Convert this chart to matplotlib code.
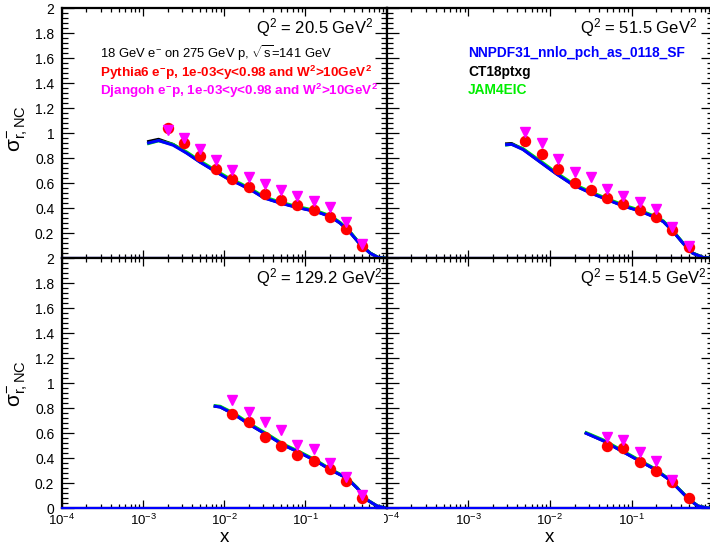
import matplotlib
matplotlib.use("Agg")
import matplotlib.pyplot as plt
import numpy as np
from matplotlib.ticker import LogLocator, NullFormatter, MultipleLocator
from matplotlib.transforms import Bbox, TransformedBbox

plt.rcParams['font.family'] = ['Liberation Sans', 'DejaVu Sans']
plt.rcParams['mathtext.fontset'] = 'custom'
plt.rcParams['mathtext.rm'] = 'Liberation Sans'
plt.rcParams['mathtext.it'] = 'Liberation Sans:italic'
plt.rcParams['mathtext.bf'] = 'Liberation Sans:bold'
plt.rcParams['mathtext.default'] = 'regular'

# ------------------------
# dados
q2_labels = ['20.5', '51.5', '129.2', '514.5']

# centros dos bins em x
x_tl = [0.0020, 0.0032, 0.0050, 0.0079, 0.0126, 0.0200, 0.0316, 0.0501, 0.0794, 0.126, 0.200, 0.316, 0.501]
x_tr = [0.0050, 0.0079, 0.0126, 0.0200, 0.0316, 0.0501, 0.0794, 0.126, 0.200, 0.316, 0.501]
x_bl = [0.0126, 0.0200, 0.0316, 0.0501, 0.0794, 0.126, 0.200, 0.316, 0.501]
x_br = [0.0501, 0.0794, 0.126, 0.200, 0.316, 0.501]

# Pythia6 (vermelho)
pythia_tl = [1.04, 0.925, 0.815, 0.712, 0.638, 0.571, 0.513, 0.470, 0.424, 0.385, 0.333, 0.238, 0.098]
pythia_tr = [0.940, 0.832, 0.717, 0.600, 0.546, 0.480, 0.435, 0.387, 0.328, 0.230, 0.093]
pythia_bl = [0.755, 0.688, 0.570, 0.498, 0.427, 0.380, 0.315, 0.220, 0.080]
pythia_br = [0.499, 0.483, 0.373, 0.299, 0.207, 0.083]

# Djangoh (magenta)
djangoh_tl = [1.03, 0.965, 0.872, 0.787, 0.710, 0.653, 0.593, 0.543, 0.500, 0.457, 0.407, 0.290, 0.117]
djangoh_tr = [1.013, 0.925, 0.796, 0.689, 0.647, 0.552, 0.500, 0.453, 0.392, 0.253, 0.100]
djangoh_bl = [0.867, 0.767, 0.693, 0.627, 0.509, 0.474, 0.362, 0.247, 0.104]
djangoh_br = [0.569, 0.550, 0.453, 0.380, 0.226]

# curvas teoricas (NNPDF azul, CT18 preto, JAM verde)
cx_tl = [0.00112, 0.00155, 0.00234, 0.00347, 0.00501, 0.00741, 0.0107, 0.0158, 0.0229, 0.0309, 0.0447,
         0.0646, 0.0955, 0.138, 0.204, 0.269, 0.363, 0.479, 0.631, 0.794, 1.0]
nnpdf_tl = [0.920, 0.942, 0.905, 0.840, 0.770, 0.703, 0.642, 0.590, 0.535, 0.483, 0.450,
            0.421, 0.395, 0.372, 0.333, 0.280, 0.200, 0.107, 0.040, 0.006, 0.0]
ct18_tl = [0.932, 0.952, 0.911, 0.843, 0.772, 0.705, 0.644, 0.592, 0.537, 0.485, 0.452,
           0.423, 0.397, 0.374, 0.335, 0.282, 0.202, 0.108, 0.041, 0.006, 0.0]
jam_tl = [0.915, 0.940, 0.911, 0.849, 0.780, 0.713, 0.652, 0.599, 0.544, 0.492, 0.458,
          0.429, 0.403, 0.379, 0.340, 0.286, 0.205, 0.110, 0.042, 0.006, 0.0]

cx_tr = [0.00282, 0.00339, 0.00468, 0.00759, 0.0120, 0.0191, 0.0309, 0.0490, 0.0794, 0.126,
         0.191, 0.245, 0.324, 0.427, 0.562, 0.759, 1.0]
nnpdf_tr = [0.908, 0.912, 0.870, 0.770, 0.675, 0.588, 0.525, 0.472, 0.418, 0.378,
            0.330, 0.293, 0.213, 0.120, 0.040, 0.006, 0.0]
ct18_tr = [0.915, 0.918, 0.873, 0.772, 0.677, 0.590, 0.527, 0.474, 0.420, 0.380,
           0.332, 0.295, 0.215, 0.121, 0.041, 0.006, 0.0]
jam_tr = [0.905, 0.912, 0.877, 0.780, 0.685, 0.597, 0.534, 0.480, 0.426, 0.385,
          0.337, 0.299, 0.218, 0.123, 0.042, 0.006, 0.0]

cx_bl = [0.00741, 0.00891, 0.0130, 0.0209, 0.0339, 0.0537, 0.0871, 0.138, 0.204, 0.327,
         0.437, 0.575, 0.767, 1.0]
nnpdf_bl = [0.818, 0.810, 0.755, 0.667, 0.586, 0.506, 0.442, 0.375, 0.308, 0.240,
            0.160, 0.067, 0.018, 0.0]
ct18_bl = [0.818, 0.811, 0.756, 0.668, 0.587, 0.507, 0.443, 0.376, 0.309, 0.241,
           0.161, 0.067, 0.018, 0.0]
jam_bl = [0.822, 0.816, 0.763, 0.675, 0.594, 0.513, 0.449, 0.381, 0.313, 0.244,
          0.163, 0.069, 0.018, 0.0]

cx_br = [0.0267, 0.0447, 0.0718, 0.115, 0.183, 0.294, 0.389, 0.515, 0.652, 0.832, 1.0]
nnpdf_br = [0.605, 0.541, 0.466, 0.392, 0.320, 0.226, 0.146, 0.066, 0.018, 0.003, 0.0]
ct18_br = [0.606, 0.542, 0.467, 0.393, 0.321, 0.227, 0.147, 0.066, 0.018, 0.003, 0.0]
jam_br = [0.610, 0.548, 0.473, 0.398, 0.325, 0.230, 0.149, 0.068, 0.019, 0.003, 0.0]

yticks = [0, 0.2, 0.4, 0.6, 0.8, 1, 1.2, 1.4, 1.6, 1.8, 2]
ytick_labels = ['0', '0.2', '0.4', '0.6', '0.8', '1', '1.2', '1.4', '1.6', '1.8', '2']
xticks = [1e-4, 1e-3, 1e-2, 1e-1, 1]
xtick_labels = [r'$10^{-4}$', r'$10^{-3}$', r'$10^{-2}$', r'$10^{-1}$', '']

# ------------------------
W, H = 710, 546
fig = plt.figure(figsize=(W / 100, H / 100), dpi=100)

def px_rect(x0, y0, x1, y1):
    # pixels (origem em cima) -> fracao da figura
    return [x0 / W, 1 - y1 / H, (x1 - x0) / W, (y1 - y0) / H]

rects = [px_rect(62, 8.3, 386.5, 258.3), px_rect(386.7, 8.3, 713.2, 258.3),
         px_rect(62, 258.3, 386.5, 508.3), px_rect(386.7, 258.3, 713.2, 508.3)]

panels = [
    (x_tl, pythia_tl, djangoh_tl, cx_tl, nnpdf_tl, ct18_tl, jam_tl),
    (x_tr, pythia_tr, djangoh_tr, cx_tr, nnpdf_tr, ct18_tr, jam_tr),
    (x_bl, pythia_bl, djangoh_bl, cx_bl, nnpdf_bl, ct18_bl, jam_bl),
    (x_br, pythia_br, djangoh_br, cx_br, nnpdf_br, ct18_br, jam_br),
]

axes = []
for i, (xd, py, dj, cx, nn, ct, jm) in enumerate(panels):
    ax = fig.add_axes(rects[i])
    axes.append(ax)
    ax.set_xscale('log')
    ax.set_xlim(1e-4, 1)
    ax.set_ylim(0, 2)

    # curvas
    ax.plot(cx, ct, color='black', lw=2.2, solid_capstyle='butt', zorder=3)
    ax.plot(cx, jm, color='#00ee00', lw=2.2, solid_capstyle='butt', zorder=3)
    ax.plot(cx, nn, color='#0000ff', lw=2.2, solid_capstyle='butt', zorder=3)
    ax.axhline(0, color='#0000ff', lw=1.6, zorder=3, clip_on=False)

    # pontos
    ax.plot(xd, py, 'o', color='#ff0000', ms=7.2, mec='#ff0000', zorder=4)
    xdj = xd[:len(dj)]
    ax.plot(xdj, dj, 'v', color='#ff00ff', ms=7.5, mec='#ff00ff', zorder=5)

    for s in ax.spines.values():
        s.set_linewidth(1.6)
        s.set_zorder(2.5)

    ax.set_yticks(yticks)
    ax.yaxis.set_minor_locator(MultipleLocator(0.04))
    ax.xaxis.set_major_locator(LogLocator(base=10, numticks=10))
    ax.xaxis.set_minor_locator(LogLocator(base=10, subs=np.arange(2, 10), numticks=20))
    ax.xaxis.set_minor_formatter(NullFormatter())
    ax.tick_params(which='both', direction='in', top=True, right=True, width=0.9)
    ax.tick_params(axis='y', which='major', length=8.5, pad=5.5, labelsize=10)
    ax.tick_params(axis='y', which='minor', length=4.2)
    ax.tick_params(axis='x', which='major', length=5.5, pad=3.5, labelsize=9.5)
    ax.tick_params(axis='x', which='minor', length=2.8)

    if i % 2 == 0:
        labs = list(ytick_labels)
        if i == 0:
            labs[0] = ''
        ax.set_yticklabels(labs)
    else:
        ax.set_yticklabels([])

    ax.set_xticks(xticks)
    if i == 2:
        ax.set_xticklabels(xtick_labels)
    elif i == 3:
        ax.set_xticklabels(['', r'$10^{-3}$', r'$10^{-2}$', r'$10^{-1}$', ''])
    else:
        ax.set_xticklabels([])

    xq = 0.598 if i % 2 == 0 else 0.592
    ax.text(xq, 0.900, r'Q$^{2}$ = %s GeV$^{2}$' % q2_labels[i], transform=ax.transAxes,
            fontsize=12, va='baseline', ha='left')

# textos do painel 1
ax = axes[0]
ax.text(0.117, 0.801, r'18 GeV e$^{-}$ on 275 GeV p, $\sqrt{s}$=141 GeV', transform=ax.transAxes,
        fontsize=9.4, va='baseline')
ax.text(0.117, 0.726, r'Pythia6 e$^{-}$p, 1e-03<y<0.98 and W$^{2}$>10GeV$^{2}$', transform=ax.transAxes,
        fontsize=9.7, fontweight='bold', color='#ff0000', va='baseline')
ax.text(0.117, 0.653, r'Djangoh e$^{-}$p, 1e-03<y<0.98 and W$^{2}$>10GeV$^{2}$', transform=ax.transAxes,
        fontsize=9.7, fontweight='bold', color='#ff00ff', va='baseline')

# legenda do painel 2
ax = axes[1]
ax.text(0.249, 0.805, 'NNPDF31_nnlo_pch_as_0118_SF', transform=ax.transAxes,
        fontsize=9.9, fontweight='bold', color='#0000ff', va='baseline')
ax.text(0.249, 0.729, 'CT18ptxg', transform=ax.transAxes,
        fontsize=9.9, fontweight='bold', color='black', va='baseline')
ax.text(0.249, 0.656, 'JAM4EIC', transform=ax.transAxes,
        fontsize=9.9, fontweight='bold', color='#00ee00', va='baseline')

# titulos dos eixos
for yc in [129, 384]:
    fig.text(18 / W, 1 - yc / H, r'$\sigma^{-}_{r,NC}$', rotation=90, fontsize=15,
             ha='center', va='center')
for xc in [224, 549]:
    fig.text(xc / W, 1 - 542 / H, 'x', fontsize=13.5, ha='center', va='baseline')

# rotulo 10^-4 cortado no painel 4
t = fig.text(386.7 / W, 1 - 511.5 / H, r'$10^{-4}$', fontsize=9.5, ha='center', va='top')
t.set_clip_box(TransformedBbox(Bbox([[384.0 / W, 0], [1, 1]]), fig.transFigure))
t.set_clip_on(True)

fig.savefig('out.png', dpi=100)
